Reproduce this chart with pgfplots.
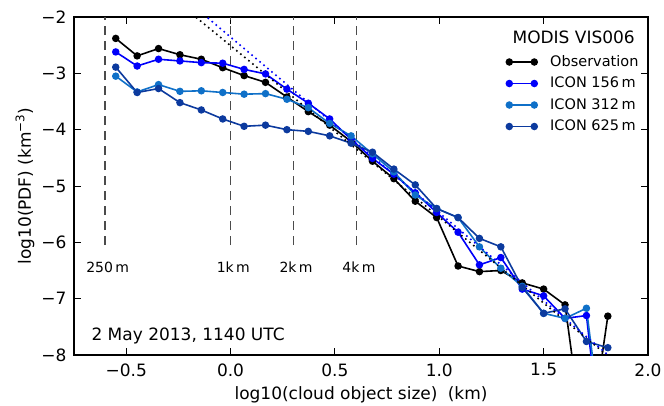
\documentclass[border=0pt]{standalone}
\usepackage{pgfplots}
\pgfplotsset{compat=1.18}
\usepackage{fontspec}
\setmainfont{DejaVu Sans}
\definecolor{c156}{RGB}{0,0,250}
\definecolor{c312}{RGB}{15,112,200}
\definecolor{c625}{RGB}{12,58,158}
\definecolor{dashgray}{RGB}{75,75,75}
\begin{document}
\begin{tikzpicture}
\begin{axis}[
  scale only axis, width=574pt, height=338pt,
  xmin=-0.75, xmax=2.0, ymin=-8, ymax=-2,
  xtick={-0.5,0,0.5,1,1.5,2}, xticklabels={−0.5,0.0,0.5,1.0,1.5,2.0},
  ytick={-8,-7,-6,-5,-4,-3,-2}, yticklabels={−8,−7,−6,−5,−4,−3,−2},
  tick align=inside, tick pos=both, major tick length=7pt,
  tick style={black, line width=1pt},
  axis line style={line width=1.2pt},
  ticklabel style={font=\fontsize{17}{20}\selectfont},
  yticklabel style={xshift=-4pt},
  xticklabel style={yshift=-5pt},
  label style={font=\fontsize{17}{20}\selectfont},
  xlabel={log10(cloud object size)\hspace{0.6em}(km)},
  ylabel={log10(PDF) (km\textsuperscript{−3})},
  xlabel style={at={(axis description cs:0.5,-0.1183)}, anchor=center},
  ylabel style={at={(axis description cs:-0.0854,0.5)}, anchor=center},
  every axis plot/.append style={line width=1.6pt, mark=*, mark size=2.9pt},
  legend image code/.code={\draw[#1] plot coordinates {(0pt,0pt) (25pt,0pt)};},
  legend style={at={(axis description cs:0.7533,0.8905)}, anchor=north west, draw=none, fill=none,
    inner sep=0pt, outer sep=0pt, row sep=5.5pt, column sep=12pt,
    font=\fontsize{14.5}{17}\selectfont,
    nodes={inner sep=1pt, text height=11pt, text depth=3pt}},
  legend cell align=left,
]
\addplot[dashgray, line width=1.4pt, mark=none, dash pattern=on 9pt off 6pt, forget plot] coordinates {(-0.60206,-6.05) (-0.60206,-2)};
\addplot[dashgray, line width=1.4pt, mark=none, dash pattern=on 9pt off 6pt, forget plot] coordinates {(0,-6.05) (0,-2)};
\addplot[dashgray, line width=1.4pt, mark=none, dash pattern=on 9pt off 6pt, forget plot] coordinates {(0.30103,-6.05) (0.30103,-2)};
\addplot[dashgray, line width=1.4pt, mark=none, dash pattern=on 9pt off 6pt, forget plot] coordinates {(0.60206,-6.05) (0.60206,-2)};

\addplot[black, mark options={fill=black}] coordinates {
(-0.55,-2.38) (-0.4475,-2.69) (-0.345,-2.56) (-0.2425,-2.67) (-0.14,-2.75) (-0.0375,-2.90) (0.065,-3.04) (0.1675,-3.16) (0.27,-3.42) (0.3725,-3.68) (0.475,-3.92) (0.5775,-4.21) (0.68,-4.56) (0.7825,-4.87) (0.885,-5.27) (0.9875,-5.56) (1.09,-6.42) (1.1925,-6.52) (1.295,-6.50) (1.3975,-6.72) (1.5,-6.83) (1.6025,-7.11) (1.705,-9.9) (1.8075,-7.31)};
\addlegendentry{Observation}
\addplot[c156, mark options={fill=c156}] coordinates {
(-0.55,-2.62) (-0.4475,-2.87) (-0.345,-2.75) (-0.2425,-2.78) (-0.14,-2.81) (-0.0375,-2.82) (0.065,-2.93) (0.1675,-3.01) (0.27,-3.28) (0.3725,-3.53) (0.475,-3.81) (0.5775,-4.17) (0.68,-4.51) (0.7825,-4.79) (0.885,-5.12) (0.9875,-5.47) (1.09,-5.82) (1.1925,-6.40) (1.295,-6.27) (1.3975,-6.83) (1.5,-6.95) (1.6025,-7.35) (1.705,-7.30) (1.8075,-10.6)};
\addlegendentry{ICON 156\,m}
\addplot[c312, mark options={fill=c312}] coordinates {
(-0.55,-3.05) (-0.4475,-3.33) (-0.345,-3.20) (-0.2425,-3.32) (-0.14,-3.31) (-0.0375,-3.34) (0.065,-3.37) (0.1675,-3.36) (0.27,-3.46) (0.3725,-3.61) (0.475,-3.89) (0.5775,-4.11) (0.68,-4.43) (0.7825,-4.75) (0.885,-5.16) (0.9875,-5.40) (1.09,-5.56) (1.1925,-6.08) (1.295,-6.46) (1.3975,-6.78) (1.5,-7.26) (1.6025,-7.35) (1.705,-7.17) (1.8075,-10.2)};
\addlegendentry{ICON 312\,m}
\addplot[c625, mark options={fill=c625}] coordinates {
(-0.55,-2.89) (-0.4475,-3.34) (-0.345,-3.27) (-0.2425,-3.52) (-0.14,-3.65) (-0.0375,-3.81) (0.065,-3.94) (0.1675,-3.92) (0.27,-4.00) (0.3725,-4.03) (0.475,-4.11) (0.5775,-4.24) (0.68,-4.40) (0.7825,-4.70) (0.885,-4.98) (0.9875,-5.40) (1.09,-5.56) (1.1925,-5.93) (1.295,-6.08) (1.3975,-6.80) (1.5,-7.26) (1.6025,-7.18) (1.705,-7.76) (1.8075,-7.87)};
\addlegendentry{ICON 625\,m}

\addplot[black, mark=none, line width=1.6pt, dash pattern=on 1.6pt off 3.6pt, forget plot] coordinates {(-0.3,-1.595) (1.8075,-8.014)};
\addplot[c156, mark=none, line width=1.6pt, dash pattern=on 1.6pt off 3.6pt, forget plot] coordinates {(-0.3,-1.42) (1.8075,-7.995)};

\node[anchor=base, inner sep=0pt, font=\fontsize{14}{17}\selectfont] at (axis cs:-0.589,-6.532) {250\,m};
\node[anchor=base, inner sep=0pt, font=\fontsize{14}{17}\selectfont] at (axis cs:0.013,-6.532) {1k\,m};
\node[anchor=base, inner sep=0pt, font=\fontsize{14}{17}\selectfont] at (axis cs:0.314,-6.532) {2k\,m};
\node[anchor=base, inner sep=0pt, font=\fontsize{14}{17}\selectfont] at (axis cs:0.615,-6.532) {4k\,m};
\node[anchor=base west, inner sep=0pt, font=\fontsize{17}{20}\selectfont] at (axis cs:-0.667,-7.734) {2 May 2013, 1140 UTC};
\node[anchor=base, inner sep=0pt, font=\fontsize{17}{20}\selectfont] at (axis cs:1.644,-2.479) {MODIS VIS006};
\end{axis}
\pgfresetboundingbox
\path ([xshift=-74pt,yshift=-50pt]current axis.south west) rectangle ++(664pt,405pt);
\end{tikzpicture}
\end{document}
